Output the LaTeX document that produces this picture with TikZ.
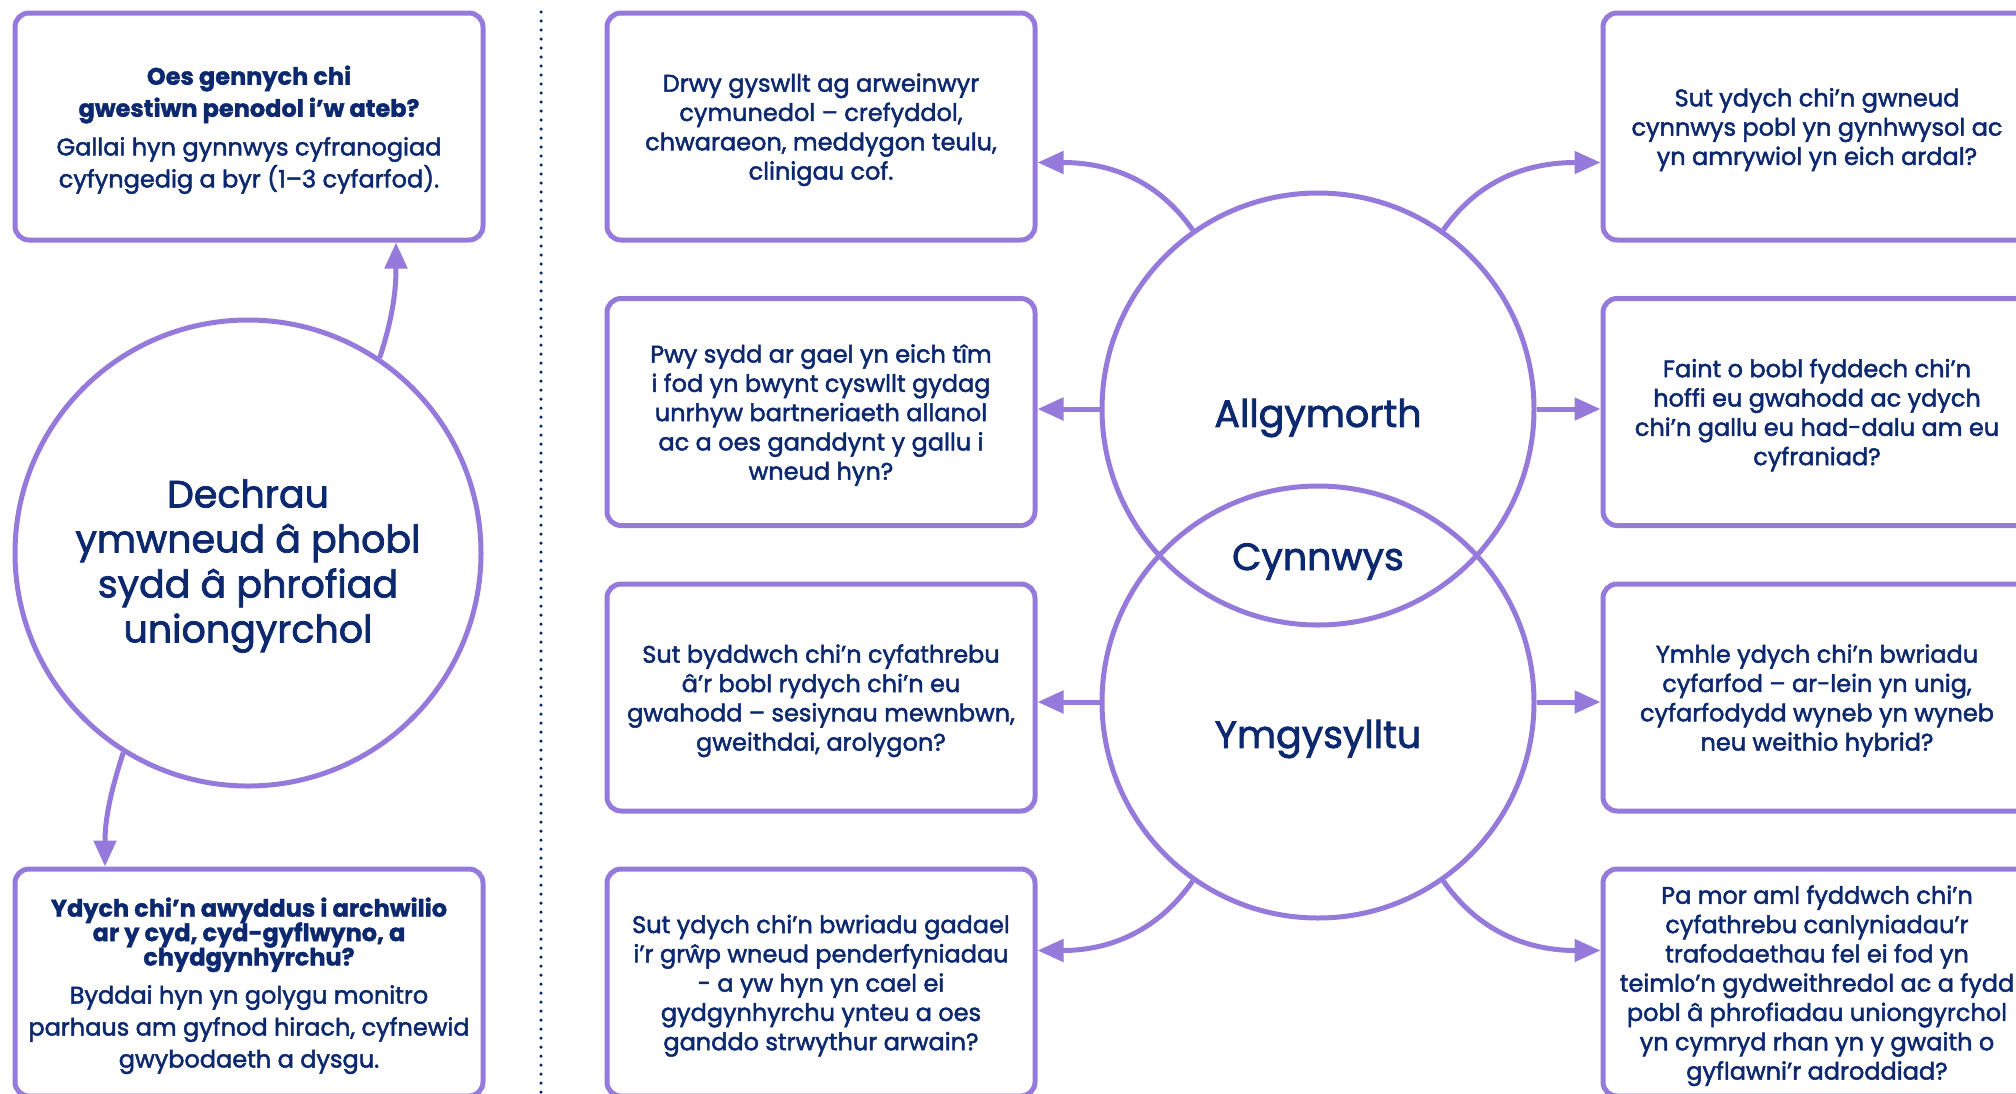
\documentclass[tikz,border=0pt]{standalone}
\usepackage{fontspec}
\setmainfont{Poppins}[UprightFeatures={FakeBold=2}, BoldFeatures={FakeBold=1.5}]
\usetikzlibrary{arrows.meta, calc}
\definecolor{lilac}{HTML}{957ADB}
\definecolor{navy}{HTML}{0C286E}
\newcommand{\hd}[1]{\textbf{#1}}

\tikzset{
	qbox/.style={draw=lilac, line width=5pt, rounded corners=14pt, minimum width=428pt, minimum height=227pt, inner sep=0pt, text depth=0pt, align=center, text=navy, font=\fontsize{24}{29.3}\selectfont},
	topic/.style={circle, draw=lilac, line width=5pt, minimum size=432pt, inner sep=0pt},
	caption/.style={text=navy, align=center, font=\fontsize{38}{45}\selectfont},
	link/.style={draw=lilac, line width=5pt, -{Triangle[length=26pt,width=22pt]}},
	divider/.style={draw=navy, line width=3.5pt, line cap=round, dash pattern=on 0pt off 9pt},
}

\begin{document}
\begin{tikzpicture}[x=1pt,y=1pt]
	\useasboundingbox (0,0) rectangle (2016,-1093);
	\node[qbox, minimum width=468pt, font=\fontsize{24}{32}\selectfont] (ask) at (249,-126.5) {\hd{Oes gennych chi}\\ \hd{gwestiwn penodol i’w ateb?}\\[6.6pt] Gallai hyn gynnwys cyfranogiad\\ cyfyngedig a byr (1–3 cyfarfod).};
	\node[topic, minimum size=466pt, label={[caption, yshift=-13pt]center:Dechrau\\ ymwneud â phobl\\ sydd â phrofiad\\ uniongyrchol}] (start) at (248,-553) {};
	\node[qbox, minimum width=468pt, font=\fontsize{24}{32}\selectfont] (explore) at (249,-982.5) {\hd{Ydych chi’n awyddus i archwilio}\\[-7.6pt] \hd{ar y cyd, cyd-gyflwyno, a}\\[-7.6pt] \hd{chydgynhyrchu?}\\[6pt] Byddai hyn yn golygu monitro\\ parhaus am gyfnod hirach, cyfnewid\\ gwybodaeth a dysgu.};
	\draw[link] (start.56) to[out=72, in=-90] ([xshift=147pt]ask.south);
	\draw[link] (start.238) to[out=-108, in=90] ([xshift=-144pt]explore.north);
	\draw[divider] (541,-12) -- (541,-1093);

	\node[topic, label={[caption, yshift=-9pt]center:Allgymorth}] (outreach) at (1318,-409) {};
	\node[topic, label={[caption, yshift=-37pt]center:Ymgysylltu}] (engage) at (1318,-702) {};
	\node[caption, yshift=-6pt] (content) at ($(outreach)!0.5!(engage)$) {Cynnwys};

	\node[qbox] (l1) at (821,-126.5) {Drwy gyswllt ag arweinwyr\\ cymunedol – crefyddol,\\ chwaraeon, meddygon teulu,\\ clinigau cof.};
	\node[qbox] (l2) at (821,-412) {Pwy sydd ar gael yn eich tîm\\ i fod yn bwynt cyswllt gydag\\ unrhyw bartneriaeth allanol\\ ac a oes ganddynt y gallu i\\ wneud hyn?};
	\node[qbox] (l3) at (821,-697.5) {Sut byddwch chi’n cyfathrebu\\ â’r bobl rydych chi’n eu\\ gwahodd – sesiynau mewnbwn,\\ gweithdai, arolygon?};
	\node[qbox] (l4) at (821,-982.5) {Sut ydych chi’n bwriadu gadael\\ i’r grŵp wneud penderfyniadau\\ - a yw hyn yn cael ei\\ gydgynhyrchu ynteu a oes\\ ganddo strwythur arwain?};
	\node[qbox] (r1) at (1817,-126.5) {Sut ydych chi’n gwneud\\ cynnwys pobl yn gynhwysol ac\\ yn amrywiol yn eich ardal?};
	\node[qbox] (r2) at (1817,-412) {Faint o bobl fyddech chi’n\\ hoffi eu gwahodd ac ydych\\ chi’n gallu eu had-dalu am eu\\ cyfraniad?};
	\node[qbox] (r3) at (1817,-697.5) {Ymhle ydych chi’n bwriadu\\ cyfarfod – ar-lein yn unig,\\ cyfarfodydd wyneb yn wyneb\\ neu weithio hybrid?};
	\node[qbox] (r4) at (1817,-982.5) {Pa mor aml fyddwch chi’n\\ cyfathrebu canlyniadau’r\\ trafodaethau fel ei fod yn\\ teimlo’n gydweithredol ac a fydd\\ pobl â phrofiadau uniongyrchol\\ yn cymryd rhan yn y gwaith o\\ gyflawni’r adroddiad?};

	\draw[link] (outreach.125) to[out=125, in=0] ([yshift=-36pt]l1.east);
	\draw[link] (outreach.55) to[out=55, in=180] ([yshift=-36pt]r1.west);
	\draw[link] (outreach.west) -- (outreach.west -| l2.east);
	\draw[link] (outreach.east) -- (outreach.east -| r2.west);
	\draw[link] (engage.west) -- (engage.west -| l3.east);
	\draw[link] (engage.east) -- (engage.east -| r3.west);
	\draw[link] (engage.235) to[out=-125, in=0] ([yshift=32pt]l4.east);
	\draw[link] (engage.-55) to[out=-55, in=180] ([yshift=32pt]r4.west);
\end{tikzpicture}
\end{document}
